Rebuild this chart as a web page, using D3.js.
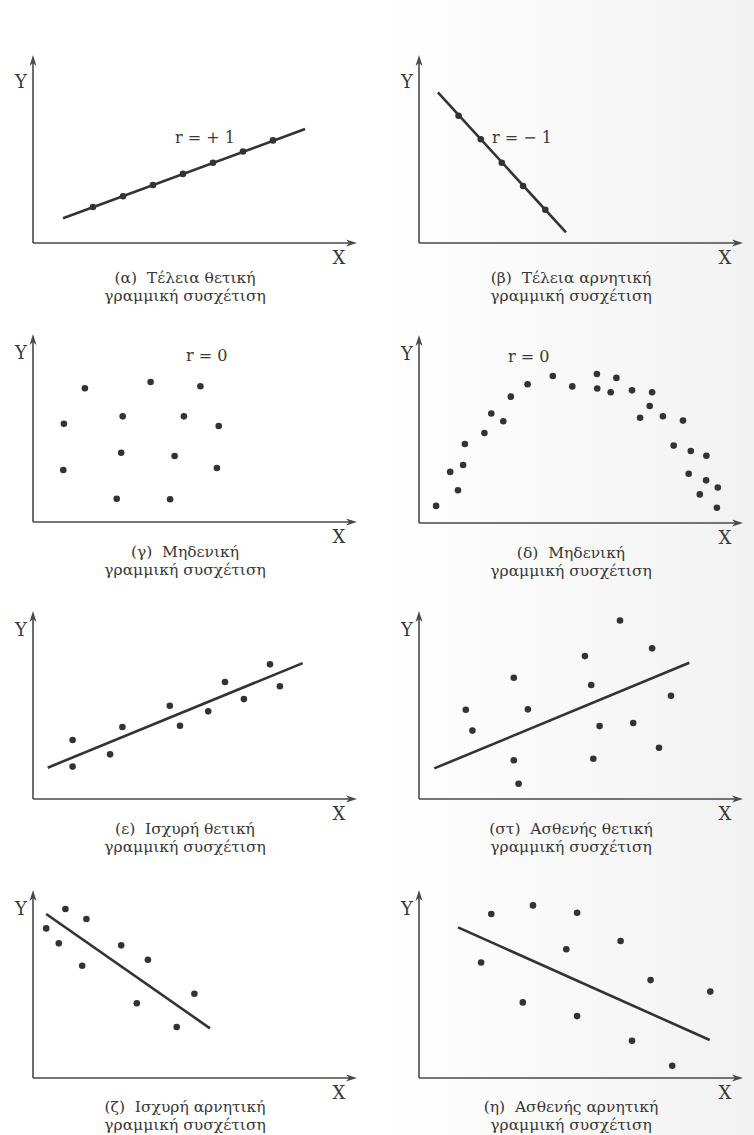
<!DOCTYPE html>
<html>
<head>
<meta charset="utf-8">
<script src="https://cdn.jsdelivr.net/npm/d3@7"></script>
<style>
  html, body { margin: 0; padding: 0; background: #ffffff; }
  svg { display: block; }
  text { font-family: "DejaVu Serif", "Liberation Serif", serif; fill: #383838; white-space: pre; }
</style>
</head>
<body>
<div id="chart"></div>
<script>
// ---- Data (x, y in the panel's own 0–10 units) ----
const captionsLine1 = [
  "(α)  Τέλεια θετική", "(β)  Τέλεια αρνητική",
  "(γ)  Μηδενική", "(δ)  Μηδενική",
  "(ε)  Ισχυρή θετική", "(στ)  Ασθενής θετική",
  "(ζ)  Ισχυρή αρνητική", "(η)  Ασθενής αρνητική"
];
const captionLine2 = "γραμμική συσχέτιση";
const rLabels = ["r = + 1", "r = − 1", "r = 0", "r = 0", null, null, null, null];
const rLabelPos = [[5.73, 5.9], [3.43, 5.89], [5.79, 9.28], [3.66, 9.29], null, null, null, null];

const pointsA = [[2, 2.0], [3, 2.6], [4, 3.22], [5, 3.84], [6, 4.46], [7, 5.08], [8, 5.7]];
const lineA = [[1.0, 1.38], [9.07, 6.33]];

const pointsB = [[1.32, 7.07], [2.06, 5.76], [2.76, 4.46], [3.47, 3.17], [4.21, 1.85]];
const lineB = [[0.63, 8.37], [4.9, 0.59]];

const pointsG = [
  [1.73, 7.43], [3.92, 7.78], [5.58, 7.54], [1.03, 5.46], [2.99, 5.87],
  [5.03, 5.87], [6.19, 5.33], [2.94, 3.85], [4.72, 3.67], [1.01, 2.89],
  [6.13, 3.0], [2.79, 1.29], [4.57, 1.26]
];

const pointsD = [
  [0.57, 0.95], [1.04, 2.84], [1.30, 1.82], [1.47, 3.22], [1.53, 4.39],
  [2.18, 5.0], [2.41, 6.08], [2.81, 5.65], [3.06, 7.02], [3.62, 7.71],
  [4.46, 8.17], [5.11, 7.59], [5.93, 8.28], [5.94, 7.47], [6.39, 7.26],
  [6.58, 8.06], [7.10, 7.37], [7.37, 5.85], [7.69, 6.50], [7.77, 7.26],
  [8.13, 5.93], [8.49, 4.30], [8.80, 5.69], [9.06, 4.0], [8.99, 2.74],
  [9.36, 1.59], [9.58, 3.74], [9.57, 2.37], [9.96, 1.97], [9.93, 0.85]
];

const pointsE = [
  [1.32, 3.28], [1.32, 1.80], [2.57, 2.48], [2.98, 4.0], [4.56, 5.18],
  [4.9, 4.07], [5.84, 4.87], [6.4, 6.5], [7.03, 5.55], [7.9, 7.48], [8.23, 6.26]
];
const lineE = [[0.49, 1.74], [8.99, 7.55]];

const pointsST = [
  [6.7, 9.92], [5.53, 7.94], [7.77, 8.37], [3.16, 6.74], [5.74, 6.33],
  [8.4, 5.74], [1.56, 4.96], [3.63, 4.98], [1.78, 3.80], [6.02, 4.05],
  [7.14, 4.22], [3.16, 2.15], [5.81, 2.24], [8.0, 2.85], [3.32, 0.85]
];
const lineST = [[0.51, 1.70], [9.01, 7.57]];

const pointsZ = [
  [0.44, 8.31], [1.08, 9.39], [1.78, 8.83], [0.86, 7.48], [1.64, 6.24],
  [2.94, 7.37], [3.83, 6.57], [3.46, 4.15], [5.38, 4.68], [4.79, 2.83]
];
const lineZ = [[0.44, 9.11], [5.9, 2.76]];

const pointsH = [
  [2.41, 9.11], [3.8, 9.59], [5.27, 9.18], [2.07, 6.42], [4.91, 7.15],
  [6.72, 7.61], [7.72, 5.44], [9.71, 4.80], [3.46, 4.20], [5.27, 3.44],
  [7.1, 2.07], [8.44, 0.68]
];
const lineH = [[1.3, 8.37], [9.69, 2.11]];

const panelPoints = [pointsA, pointsB, pointsG, pointsD, pointsE, pointsST, pointsZ, pointsH];
const panelLines = [lineA, lineB, null, null, lineE, lineST, lineZ, lineH];

// ---- Layout ----
const W = 754, H = 1135;
const origins = [[33, 243], [419, 243], [33, 522], [419, 523], [33, 799], [419, 799], [33, 1078], [419, 1078]];
const captionOffset = [40, 40, 35, 35, 35, 35, 34, 34];
const axisLen = { x: 324, y: 188 };
const unit = { x: 30, y: 18 };
const ink = "#333";
const axisInk = "#4a4a4a";

const svg = d3.select("#chart").append("svg")
  .attr("width", W).attr("height", H);

// paper tone: a faint grey on the right side of the page
const defs = svg.append("defs");
const grad = defs.append("linearGradient").attr("id", "paper").attr("x1", "0").attr("x2", "1");
grad.append("stop").attr("offset", "0.5").attr("stop-color", "#ffffff");
grad.append("stop").attr("offset", "1").attr("stop-color", "#f2f2f2");
svg.append("rect").attr("width", W).attr("height", H).attr("fill", "url(#paper)");

origins.forEach(([ox, oy], i) => {
  const x = d3.scaleLinear().domain([0, 10]).range([ox, ox + 10 * unit.x]);
  const y = d3.scaleLinear().domain([0, 10]).range([oy, oy - 10 * unit.y]);
  const g = svg.append("g");

  // axes with arrowheads
  const topY = oy - axisLen.y, rightX = ox + axisLen.x;
  g.append("path")
    .attr("d", `M${ox},${oy} L${ox},${topY + 6} M${ox},${oy} L${rightX - 6},${oy}`)
    .attr("stroke", axisInk).attr("stroke-width", 1.6).attr("fill", "none");
  g.append("path")
    .attr("d", `M${ox},${topY} L${ox - 3.5},${topY + 11} L${ox},${topY + 8} L${ox + 3.5},${topY + 11} Z`)
    .attr("fill", axisInk);
  g.append("path")
    .attr("d", `M${rightX},${oy} L${rightX - 11},${oy - 3.5} L${rightX - 8},${oy} L${rightX - 11},${oy + 3.5} Z`)
    .attr("fill", axisInk);

  g.append("text").attr("x", ox - 12).attr("y", oy - (i < 2 ? 155 : 163))
    .attr("text-anchor", "middle").attr("font-size", 18).text("Y");
  g.append("text").attr("x", ox + 306).attr("y", oy + 21)
    .attr("text-anchor", "middle").attr("font-size", 18).text("X");

  // fitted / exact line
  const ln = panelLines[i];
  if (ln) {
    g.append("path")
      .attr("d", d3.line().x(d => x(d[0])).y(d => y(d[1]))(ln))
      .attr("stroke", ink).attr("stroke-width", 2.6).attr("fill", "none");
  }

  // observations
  g.selectAll("circle").data(panelPoints[i]).join("circle")
    .attr("cx", d => x(d[0])).attr("cy", d => y(d[1]))
    .attr("r", 3.3).attr("fill", ink);

  if (rLabels[i]) {
    g.append("text").attr("x", x(rLabelPos[i][0])).attr("y", y(rLabelPos[i][1]) + 6)
      .attr("text-anchor", "middle").attr("font-size", 16).text(rLabels[i]);
  }

  const cx = ox + 152;
  g.append("text").attr("x", cx).attr("y", oy + captionOffset[i])
    .attr("text-anchor", "middle").attr("font-size", 15.5).text(captionsLine1[i]);
  g.append("text").attr("x", cx).attr("y", oy + captionOffset[i] + 17.5)
    .attr("text-anchor", "middle").attr("font-size", 15.5).text(captionLine2);
});
</script>
</body>
</html>
